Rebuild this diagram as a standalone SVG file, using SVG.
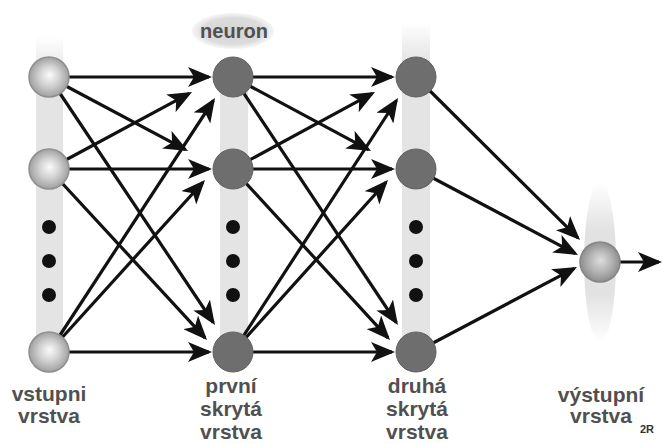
<svg xmlns="http://www.w3.org/2000/svg" width="663" height="444" viewBox="0 0 663 444">
<defs>
<style>
.lbl{font-family:"Liberation Sans",Arial,sans-serif;font-weight:bold;font-size:21px;fill:#505050;text-anchor:middle}
.cn line{stroke:#111;stroke-width:3.2;marker-end:url(#ah)}
.hid{fill:#6e6e6e;stroke:#626262;stroke-width:1}
.inp{fill:url(#gIn);stroke:#8f8f8f;stroke-width:1.5}
.dot{fill:#111}
</style>
<marker id="ah" markerUnits="userSpaceOnUse" markerWidth="24" markerHeight="20" refX="21" refY="10" orient="auto">
<path d="M0,0 L24,10 L0,20 L6,10 z" fill="#111"/>
</marker>
<radialGradient id="gIn" cx="50%" cy="50%" r="50%" fx="52%" fy="45%">
<stop offset="0" stop-color="#fbfbfb"/>
<stop offset="0.5" stop-color="#d2d2d2"/>
<stop offset="1" stop-color="#a0a0a0"/>
</radialGradient>
<radialGradient id="gOut" cx="50%" cy="50%" r="50%" fx="52%" fy="45%">
<stop offset="0" stop-color="#dedede"/>
<stop offset="0.6" stop-color="#b0b0b0"/>
<stop offset="1" stop-color="#8e8e8e"/>
</radialGradient>
<linearGradient id="gCol" x1="0" y1="0" x2="0" y2="1">
<stop offset="0" stop-color="#e4e4e4" stop-opacity="0"/>
<stop offset="0.12" stop-color="#e4e4e4" stop-opacity="1"/>
<stop offset="1" stop-color="#e4e4e4" stop-opacity="1"/>
</linearGradient>
<linearGradient id="gColOut" x1="0" y1="0" x2="0" y2="1">
<stop offset="0" stop-color="#e2e2e2" stop-opacity="0"/>
<stop offset="0.3" stop-color="#e2e2e2" stop-opacity="1"/>
<stop offset="0.7" stop-color="#e2e2e2" stop-opacity="1"/>
<stop offset="1" stop-color="#e2e2e2" stop-opacity="0"/>
</linearGradient>
<radialGradient id="gNeu" cx="50%" cy="50%" r="50%">
<stop offset="0" stop-color="#d4d4d4"/>
<stop offset="0.75" stop-color="#dcdcdc"/>
<stop offset="1" stop-color="#e8e8e8" stop-opacity="0.4"/>
</radialGradient>
</defs>
<rect width="663" height="444" fill="#ffffff"/>

<g id="columns">
<rect x="36" y="36" width="27" height="316" fill="url(#gCol)"/>
<rect x="220" y="77" width="28" height="275" fill="#e4e4e4"/>
<rect x="402" y="22" width="28" height="330" fill="url(#gCol)"/>
<ellipse cx="600" cy="262" rx="16" ry="80" fill="url(#gColOut)"/>
</g>

<g id="connectors" class="cn">
<line x1="49" y1="77" x2="209" y2="77"/>
<line x1="49" y1="77" x2="185.4" y2="149.6"/>
<line x1="49" y1="77" x2="213.3" y2="322.5"/>
<line x1="49" y1="169" x2="189.4" y2="93.4"/>
<line x1="49" y1="169" x2="209" y2="169"/>
<line x1="49" y1="169" x2="205" y2="337.8"/>
<line x1="49" y1="352" x2="213.4" y2="100.5"/>
<line x1="49" y1="352" x2="203" y2="182.2"/>
<line x1="49" y1="352" x2="209" y2="352"/>

<line x1="233" y1="77" x2="392" y2="77"/>
<line x1="233" y1="77" x2="368.4" y2="149.6"/>
<line x1="233" y1="77" x2="396.3" y2="322.5"/>
<line x1="233" y1="169" x2="372.4" y2="93.4"/>
<line x1="233" y1="169" x2="392" y2="169"/>
<line x1="233" y1="169" x2="388" y2="337.8"/>
<line x1="233" y1="352" x2="396.4" y2="100.5"/>
<line x1="233" y1="352" x2="386" y2="182.2"/>
<line x1="233" y1="352" x2="392" y2="352"/>

<line x1="416" y1="77" x2="577.9" y2="237.9"/>
<line x1="416" y1="169" x2="575.4" y2="253.6"/>
<line x1="416" y1="352" x2="574.3" y2="268.4"/>
<line x1="600" y1="262" x2="659" y2="262"/>
</g>

<g id="label-neuron">
<ellipse cx="233" cy="31" rx="41" ry="18" fill="url(#gNeu)"/>
<text class="lbl" x="234" y="38" style="font-size:20px">neuron</text>
</g>

<g id="input-layer">
<circle class="inp" cx="49" cy="77" r="20"/>
<circle class="inp" cx="49" cy="169" r="20"/>
<circle class="dot" cx="49" cy="227" r="7"/>
<circle class="dot" cx="49" cy="261" r="7"/>
<circle class="dot" cx="49" cy="295" r="7"/>
<circle class="inp" cx="49" cy="352" r="20"/>
<text class="lbl" x="49" y="401">vstupni</text>
<text class="lbl" x="49" y="423">vrstva</text>
</g>

<g id="hidden-layer-1">
<circle class="hid" cx="233" cy="77" r="20"/>
<circle class="hid" cx="233" cy="169" r="20"/>
<circle class="dot" cx="233" cy="227" r="7"/>
<circle class="dot" cx="233" cy="261" r="7"/>
<circle class="dot" cx="233" cy="295" r="7"/>
<circle class="hid" cx="233" cy="352" r="20"/>
<text class="lbl" x="231" y="393">první</text>
<text class="lbl" x="231" y="416">skrytá</text>
<text class="lbl" x="231" y="439">vrstva</text>
</g>

<g id="hidden-layer-2">
<circle class="hid" cx="416" cy="77" r="20"/>
<circle class="hid" cx="416" cy="169" r="20"/>
<circle class="dot" cx="416" cy="227" r="7"/>
<circle class="dot" cx="416" cy="261" r="7"/>
<circle class="dot" cx="416" cy="295" r="7"/>
<circle class="hid" cx="416" cy="352" r="20"/>
<text class="lbl" x="417" y="393">druhá</text>
<text class="lbl" x="417" y="416">skrytá</text>
<text class="lbl" x="417" y="439">vrstva</text>
</g>

<g id="output-layer">
<circle cx="600" cy="262" r="20" fill="url(#gOut)" stroke="#858585" stroke-width="1.5"/>
<text class="lbl" x="601" y="402">výstupní</text>
<text class="lbl" x="601" y="423">vrstva</text>
<text class="lbl" x="647" y="433" style="font-size:11px;fill:#333">2R</text>
</g>
</svg>
